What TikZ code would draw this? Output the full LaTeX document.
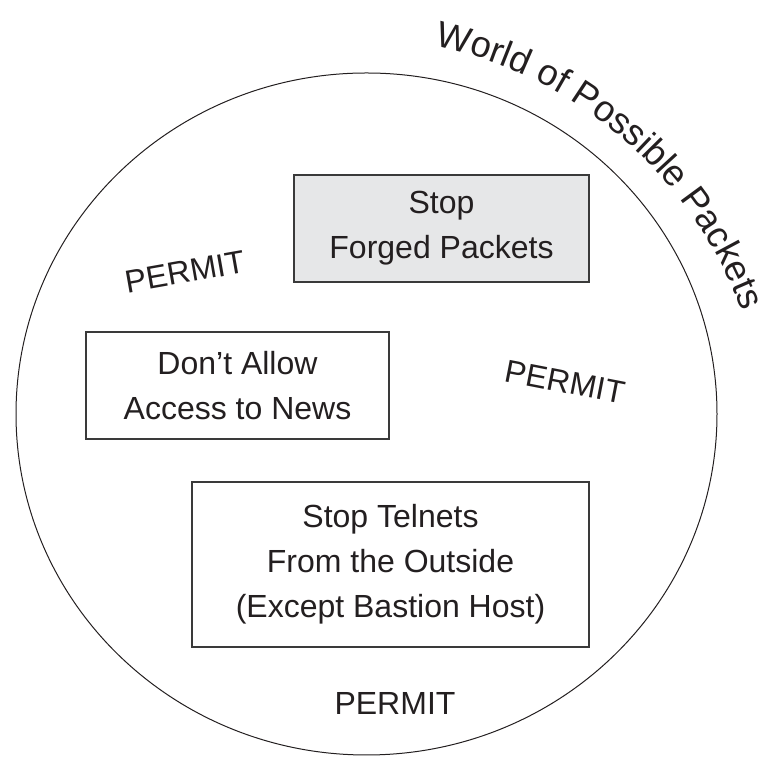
\documentclass[tikz,border=0pt]{standalone}
\usepackage{fontspec}
\setmainfont{Liberation Sans}
\usetikzlibrary{decorations.text}
\definecolor{inkc}{HTML}{231F20}
\definecolor{boxline}{HTML}{3A3A3A}
\definecolor{boxgray}{HTML}{E6E7E8}
\tikzset{
  rulebox/.style={draw=boxline, line width=1.1pt, align=center, text=inkc,
    font=\fontsize{32}{45}\selectfont, inner sep=0pt},
  permitlbl/.style={text=inkc, font=\fontsize{32}{38}\selectfont, inner sep=0pt},
  worldline/.style={draw=inkc, line width=1pt}
}
\begin{document}
\begin{tikzpicture}[x=1pt,y=1pt]
\useasboundingbox (0,0) rectangle (764,757);
% world of possible packets
\draw[worldline] (366.5,343) ellipse [x radius=350.5, y radius=341];
\coordinate (arcc) at (347.3,299.7);
\path[decorate, decoration={text along path, text align=left,
  text={|\fontsize{36.5}{40}\selectfont\color{inkc}|World of Possible Packets}}]
  (arcc) ++(78:421) arc[start angle=78, end angle=5, radius=421];
% rule boxes
\node[rulebox, fill=boxgray, minimum width=295pt, minimum height=107pt] (forged)
  at (441.5,528.5) {Stop\\Forged Packets};
\node[rulebox, fill=white, minimum width=303pt, minimum height=107pt] (news)
  at (237.5,371.5) {Don’t Allow\\Access to News};
\node[rulebox, fill=white, minimum width=397pt, minimum height=165pt] (telnet)
  at (390.5,192.5) {Stop Telnets\\From the Outside\\(Except Bastion Host)};
% permit labels
\node[permitlbl, rotate=10] (permitA) at (185,485) {PERMIT};
\node[permitlbl, rotate=-11] (permitB) at (565,375) {PERMIT};
\node[permitlbl, anchor=base] (permitC) at (395,42) {PERMIT};
\end{tikzpicture}
\end{document}
